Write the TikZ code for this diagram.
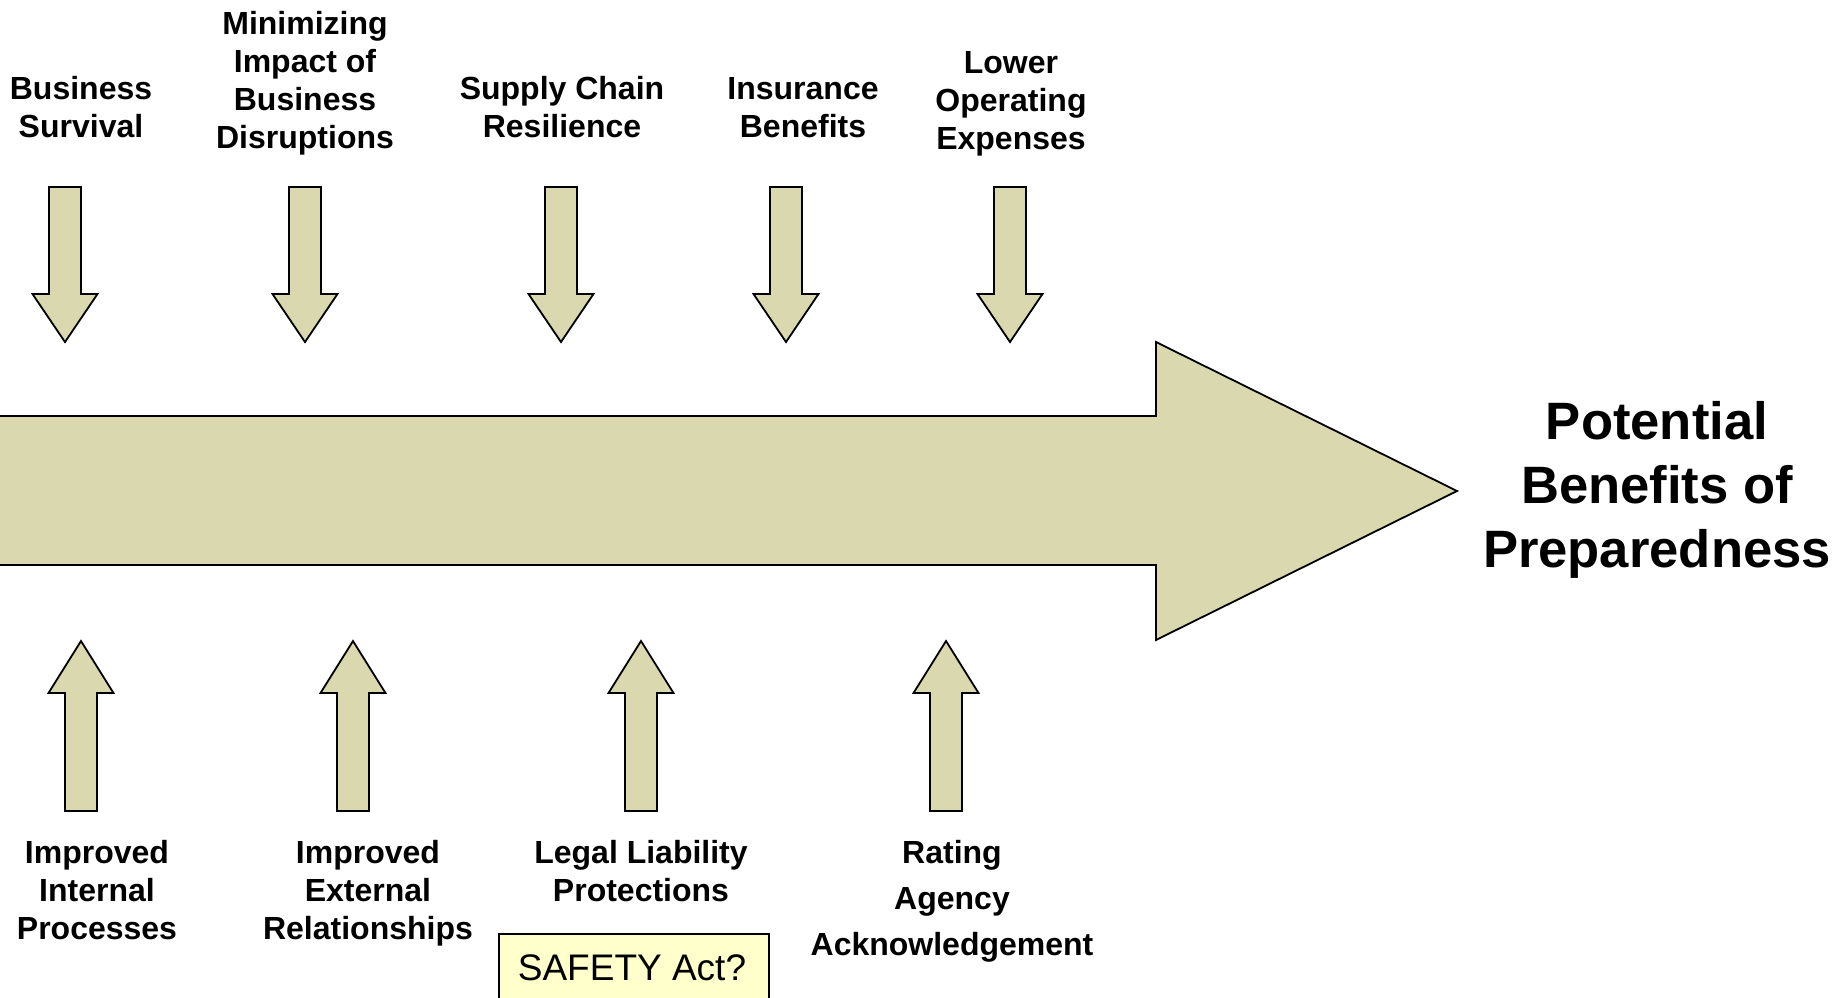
\documentclass[tikz,border=0pt]{standalone}
\usepackage{fontspec}
\setmainfont{Liberation Sans}
\definecolor{tanfill}{RGB}{217,216,174}
\definecolor{notefill}{RGB}{255,255,204}
\begin{document}
\begin{tikzpicture}[x=0.5pt,y=-0.5pt,
  flow/.style={fill=tanfill,draw=black,line width=0.9pt,line join=miter},
  lbl/.style={align=center,font=\bfseries\fontsize{16}{19}\selectfont,inner sep=0pt},
  ttl/.style={align=center,font=\bfseries\fontsize{26.3}{32}\selectfont,inner sep=0pt},
  note/.style={fill=notefill,draw=black,line width=0.9pt}]
\useasboundingbox (0,0) rectangle (1848,997);
% main arrow
\draw[flow] (-10,416) -- (1156,416) -- (1156,342) -- (1457,491) -- (1156,640) -- (1156,565) -- (-10,565) -- cycle;
% down arrows
\foreach \c in {65,305,561,786,1010}{
  \draw[flow] (\c-16,187) -- (\c+16,187) -- (\c+16,294) -- (\c+32.5,294) -- (\c,342) -- (\c-32.5,294) -- (\c-16,294) -- cycle;
}
% up arrows
\foreach \c in {81,353,641,946}{
  \draw[flow] (\c-16,811) -- (\c-16,693) -- (\c-32.5,693) -- (\c,641) -- (\c+32.5,693) -- (\c+16,693) -- (\c+16,811) -- cycle;
}
% labels
\node[lbl] (bs) at (81,107.5) {Business\\Survival};
\node[lbl] (mi) at (305,83.5) {Minimizing\\Impact of\\Business\\Disruptions};
\node[lbl] (sc) at (562,107) {Supply Chain\\Resilience};
\node[lbl] (ib) at (803,107.5) {Insurance\\Benefits};
\node[lbl] (lo) at (1011,103.5) {Lower\\Operating\\Expenses};
\node[lbl] (ii) at (97,890) {Improved\\Internal\\Processes};
\node[lbl] (ie) at (368,893) {Improved\\External\\Relationships};
\node[lbl] (ll) at (641,871.5) {Legal Liability\\Protections};
\node[lbl,font=\bfseries\fontsize{16}{23}\selectfont] (ra) at (952,901.5) {Rating\\Agency\\Acknowledgement};
\node[ttl] (pb) at (1657,490) {Potential\\Benefits of\\Preparedness};
% SAFETY Act box
\draw[note] (499,934) rectangle (769,1010);
\node[font=\fontsize{18.5}{22}\selectfont,inner sep=0pt] (sa) at (632,968) {SAFETY Act?};
\end{tikzpicture}
\end{document}
